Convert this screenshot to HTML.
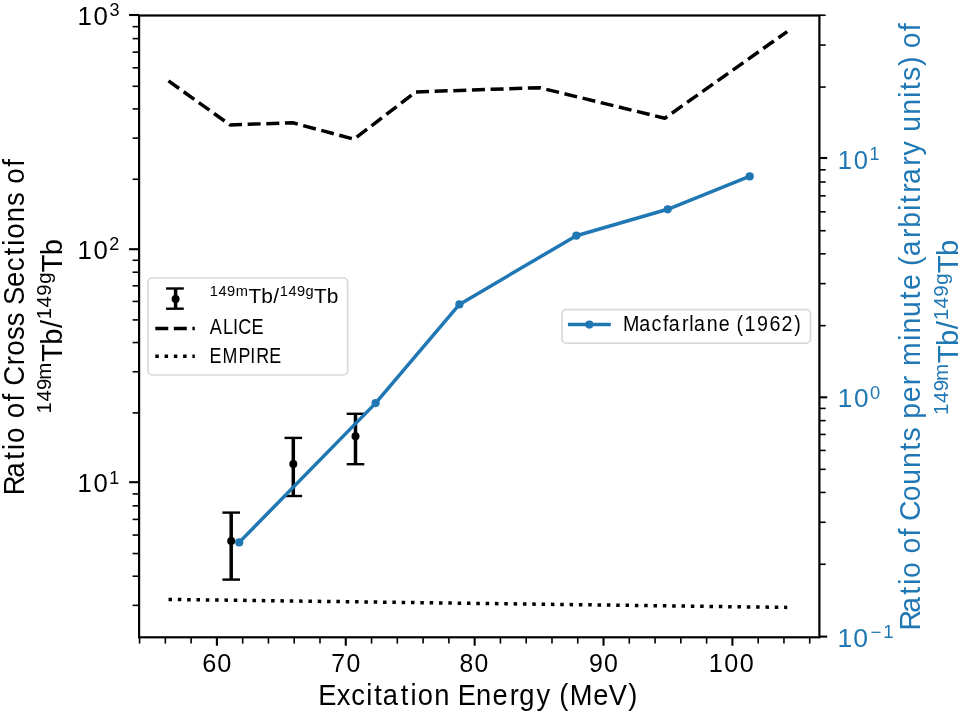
<!DOCTYPE html>
<html><head><meta charset="utf-8"><title>Ratio of Cross Sections</title>
<style>html,body{margin:0;padding:0;background:#fff;overflow:hidden}svg{display:block;will-change:transform}text{font-family:"Liberation Sans",sans-serif;font-kerning:none}</style>
</head><body>
<svg width="964" height="715" viewBox="0 0 964 715" font-family="Liberation Sans, sans-serif">
<rect x="0" y="0" width="964" height="715" fill="#fff"/>
<polyline points="168.50,80.90 230.00,124.90 292.80,122.80 354.00,139.20 415.80,91.90 539.60,87.70 664.80,118.20 787.20,31.60" fill="none" stroke="#000" stroke-width="3.50" stroke-dasharray="13.024 5.632" stroke-linejoin="round" stroke-linecap="butt"/>
<polyline points="168.50,599.40 787.20,607.40" fill="none" stroke="#000" stroke-width="3.50" stroke-dasharray="3.520 5.808" stroke-linejoin="round" stroke-linecap="butt"/>
<line x1="231.20" y1="579.60" x2="231.20" y2="512.60" stroke="#000" stroke-width="3.50"/>
<line x1="222.40" y1="579.60" x2="240.00" y2="579.60" stroke="#000" stroke-width="2.4"/>
<line x1="222.40" y1="512.60" x2="240.00" y2="512.60" stroke="#000" stroke-width="2.4"/>
<circle cx="231.20" cy="541.00" r="4.0" fill="#000"/>
<line x1="293.30" y1="496.00" x2="293.30" y2="437.90" stroke="#000" stroke-width="3.50"/>
<line x1="284.50" y1="496.00" x2="302.10" y2="496.00" stroke="#000" stroke-width="2.4"/>
<line x1="284.50" y1="437.90" x2="302.10" y2="437.90" stroke="#000" stroke-width="2.4"/>
<circle cx="293.30" cy="463.90" r="4.0" fill="#000"/>
<line x1="355.50" y1="464.20" x2="355.50" y2="413.80" stroke="#000" stroke-width="3.50"/>
<line x1="346.70" y1="464.20" x2="364.30" y2="464.20" stroke="#000" stroke-width="2.4"/>
<line x1="346.70" y1="413.80" x2="364.30" y2="413.80" stroke="#000" stroke-width="2.4"/>
<circle cx="355.50" cy="436.20" r="4.0" fill="#000"/>
<line x1="139.58" y1="637.30" x2="139.58" y2="643.60" stroke="#000" stroke-width="1.60"/>
<line x1="165.35" y1="637.30" x2="165.35" y2="643.60" stroke="#000" stroke-width="1.60"/>
<line x1="191.12" y1="637.30" x2="191.12" y2="643.60" stroke="#000" stroke-width="1.60"/>
<line x1="216.90" y1="637.30" x2="216.90" y2="645.70" stroke="#000" stroke-width="2.10"/>
<line x1="242.68" y1="637.30" x2="242.68" y2="643.60" stroke="#000" stroke-width="1.60"/>
<line x1="268.45" y1="637.30" x2="268.45" y2="643.60" stroke="#000" stroke-width="1.60"/>
<line x1="294.23" y1="637.30" x2="294.23" y2="643.60" stroke="#000" stroke-width="1.60"/>
<line x1="320.00" y1="637.30" x2="320.00" y2="643.60" stroke="#000" stroke-width="1.60"/>
<line x1="345.77" y1="637.30" x2="345.77" y2="645.70" stroke="#000" stroke-width="2.10"/>
<line x1="371.55" y1="637.30" x2="371.55" y2="643.60" stroke="#000" stroke-width="1.60"/>
<line x1="397.32" y1="637.30" x2="397.32" y2="643.60" stroke="#000" stroke-width="1.60"/>
<line x1="423.10" y1="637.30" x2="423.10" y2="643.60" stroke="#000" stroke-width="1.60"/>
<line x1="448.88" y1="637.30" x2="448.88" y2="643.60" stroke="#000" stroke-width="1.60"/>
<line x1="474.65" y1="637.30" x2="474.65" y2="645.70" stroke="#000" stroke-width="2.10"/>
<line x1="500.42" y1="637.30" x2="500.42" y2="643.60" stroke="#000" stroke-width="1.60"/>
<line x1="526.20" y1="637.30" x2="526.20" y2="643.60" stroke="#000" stroke-width="1.60"/>
<line x1="551.98" y1="637.30" x2="551.98" y2="643.60" stroke="#000" stroke-width="1.60"/>
<line x1="577.75" y1="637.30" x2="577.75" y2="643.60" stroke="#000" stroke-width="1.60"/>
<line x1="603.52" y1="637.30" x2="603.52" y2="645.70" stroke="#000" stroke-width="2.10"/>
<line x1="629.30" y1="637.30" x2="629.30" y2="643.60" stroke="#000" stroke-width="1.60"/>
<line x1="655.07" y1="637.30" x2="655.07" y2="643.60" stroke="#000" stroke-width="1.60"/>
<line x1="680.85" y1="637.30" x2="680.85" y2="643.60" stroke="#000" stroke-width="1.60"/>
<line x1="706.62" y1="637.30" x2="706.62" y2="643.60" stroke="#000" stroke-width="1.60"/>
<line x1="732.40" y1="637.30" x2="732.40" y2="645.70" stroke="#000" stroke-width="2.10"/>
<line x1="758.17" y1="637.30" x2="758.17" y2="643.60" stroke="#000" stroke-width="1.60"/>
<line x1="783.95" y1="637.30" x2="783.95" y2="643.60" stroke="#000" stroke-width="1.60"/>
<line x1="809.72" y1="637.30" x2="809.72" y2="643.60" stroke="#000" stroke-width="1.60"/>
<line x1="132.60" y1="605.38" x2="139.10" y2="605.38" stroke="#000" stroke-width="1.60"/>
<line x1="132.60" y1="576.19" x2="139.10" y2="576.19" stroke="#000" stroke-width="1.60"/>
<line x1="132.60" y1="553.55" x2="139.10" y2="553.55" stroke="#000" stroke-width="1.60"/>
<line x1="132.60" y1="535.05" x2="139.10" y2="535.05" stroke="#000" stroke-width="1.60"/>
<line x1="132.60" y1="519.41" x2="139.10" y2="519.41" stroke="#000" stroke-width="1.60"/>
<line x1="132.60" y1="505.86" x2="139.10" y2="505.86" stroke="#000" stroke-width="1.60"/>
<line x1="132.60" y1="493.91" x2="139.10" y2="493.91" stroke="#000" stroke-width="1.60"/>
<line x1="129.10" y1="482.20" x2="139.10" y2="482.20" stroke="#000" stroke-width="2.10"/>
<line x1="132.60" y1="412.89" x2="139.10" y2="412.89" stroke="#000" stroke-width="1.60"/>
<line x1="132.60" y1="371.75" x2="139.10" y2="371.75" stroke="#000" stroke-width="1.60"/>
<line x1="132.60" y1="342.56" x2="139.10" y2="342.56" stroke="#000" stroke-width="1.60"/>
<line x1="132.60" y1="319.92" x2="139.10" y2="319.92" stroke="#000" stroke-width="1.60"/>
<line x1="132.60" y1="301.42" x2="139.10" y2="301.42" stroke="#000" stroke-width="1.60"/>
<line x1="132.60" y1="285.78" x2="139.10" y2="285.78" stroke="#000" stroke-width="1.60"/>
<line x1="132.60" y1="272.23" x2="139.10" y2="272.23" stroke="#000" stroke-width="1.60"/>
<line x1="132.60" y1="260.28" x2="139.10" y2="260.28" stroke="#000" stroke-width="1.60"/>
<line x1="129.10" y1="249.20" x2="139.10" y2="249.20" stroke="#000" stroke-width="2.10"/>
<line x1="132.60" y1="179.26" x2="139.10" y2="179.26" stroke="#000" stroke-width="1.60"/>
<line x1="132.60" y1="138.12" x2="139.10" y2="138.12" stroke="#000" stroke-width="1.60"/>
<line x1="132.60" y1="108.93" x2="139.10" y2="108.93" stroke="#000" stroke-width="1.60"/>
<line x1="132.60" y1="86.29" x2="139.10" y2="86.29" stroke="#000" stroke-width="1.60"/>
<line x1="132.60" y1="67.79" x2="139.10" y2="67.79" stroke="#000" stroke-width="1.60"/>
<line x1="132.60" y1="52.15" x2="139.10" y2="52.15" stroke="#000" stroke-width="1.60"/>
<line x1="132.60" y1="38.60" x2="139.10" y2="38.60" stroke="#000" stroke-width="1.60"/>
<line x1="132.60" y1="26.65" x2="139.10" y2="26.65" stroke="#000" stroke-width="1.60"/>
<line x1="129.10" y1="15.00" x2="139.10" y2="15.00" stroke="#000" stroke-width="2.10"/>
<rect x="139.10" y="15.50" width="680.30" height="621.80" fill="none" stroke="#000" stroke-width="2.20" stroke-linejoin="miter"/>
<line x1="819.40" y1="636.60" x2="827.20" y2="636.60" stroke="#000" stroke-width="2.10"/>
<line x1="819.40" y1="564.26" x2="825.70" y2="564.26" stroke="#000" stroke-width="1.60"/>
<line x1="819.40" y1="522.25" x2="825.70" y2="522.25" stroke="#000" stroke-width="1.60"/>
<line x1="819.40" y1="492.44" x2="825.70" y2="492.44" stroke="#000" stroke-width="1.60"/>
<line x1="819.40" y1="469.32" x2="825.70" y2="469.32" stroke="#000" stroke-width="1.60"/>
<line x1="819.40" y1="450.42" x2="825.70" y2="450.42" stroke="#000" stroke-width="1.60"/>
<line x1="819.40" y1="434.45" x2="825.70" y2="434.45" stroke="#000" stroke-width="1.60"/>
<line x1="819.40" y1="420.61" x2="825.70" y2="420.61" stroke="#000" stroke-width="1.60"/>
<line x1="819.40" y1="408.41" x2="825.70" y2="408.41" stroke="#000" stroke-width="1.60"/>
<line x1="819.40" y1="397.30" x2="827.20" y2="397.30" stroke="#000" stroke-width="2.10"/>
<line x1="819.40" y1="325.66" x2="825.70" y2="325.66" stroke="#000" stroke-width="1.60"/>
<line x1="819.40" y1="283.65" x2="825.70" y2="283.65" stroke="#000" stroke-width="1.60"/>
<line x1="819.40" y1="253.84" x2="825.70" y2="253.84" stroke="#000" stroke-width="1.60"/>
<line x1="819.40" y1="230.72" x2="825.70" y2="230.72" stroke="#000" stroke-width="1.60"/>
<line x1="819.40" y1="211.82" x2="825.70" y2="211.82" stroke="#000" stroke-width="1.60"/>
<line x1="819.40" y1="195.85" x2="825.70" y2="195.85" stroke="#000" stroke-width="1.60"/>
<line x1="819.40" y1="182.01" x2="825.70" y2="182.01" stroke="#000" stroke-width="1.60"/>
<line x1="819.40" y1="169.81" x2="825.70" y2="169.81" stroke="#000" stroke-width="1.60"/>
<line x1="819.40" y1="158.00" x2="827.20" y2="158.00" stroke="#000" stroke-width="2.10"/>
<line x1="819.40" y1="87.06" x2="825.70" y2="87.06" stroke="#000" stroke-width="1.60"/>
<line x1="819.40" y1="45.05" x2="825.70" y2="45.05" stroke="#000" stroke-width="1.60"/>
<line x1="819.40" y1="15.24" x2="825.70" y2="15.24" stroke="#000" stroke-width="1.60"/>
<rect x="148.00" y="278.00" width="199.70" height="97.00" rx="4.2" ry="4.2" fill="#fff" fill-opacity="0.8" stroke="#cccccc" stroke-opacity="0.75" stroke-width="1.7"/>
<line x1="175.6" y1="288.5" x2="175.6" y2="308.7" stroke="#000" stroke-width="3.50"/>
<line x1="166.1" y1="288.50" x2="183.8" y2="288.50" stroke="#000" stroke-width="2.4"/>
<line x1="166.1" y1="308.70" x2="183.8" y2="308.70" stroke="#000" stroke-width="2.4"/>
<circle cx="175.6" cy="299.1" r="4.0" fill="#000"/>
<line x1="155.3" y1="328.4" x2="194.8" y2="328.4" stroke="#000" stroke-width="3.50" stroke-dasharray="12.95 5.60"/>
<line x1="155.3" y1="356.3" x2="194.8" y2="356.3" stroke="#000" stroke-width="3.50" stroke-dasharray="3.50 5.77"/>
<polyline points="239.20,542.40 375.60,403.10 459.40,304.40 576.30,235.70 667.70,209.30 749.70,176.40" fill="none" stroke="#1f77b4" stroke-width="3.50" stroke-linejoin="round" stroke-linecap="square"/>
<circle cx="239.20" cy="542.40" r="4.1" fill="#1f77b4"/>
<circle cx="375.60" cy="403.10" r="4.1" fill="#1f77b4"/>
<circle cx="459.40" cy="304.40" r="4.1" fill="#1f77b4"/>
<circle cx="576.30" cy="235.70" r="4.1" fill="#1f77b4"/>
<circle cx="667.70" cy="209.30" r="4.1" fill="#1f77b4"/>
<circle cx="749.70" cy="176.40" r="4.1" fill="#1f77b4"/>
<rect x="562.00" y="309.70" width="248.50" height="33.50" rx="4.2" ry="4.2" fill="#fff" fill-opacity="0.8" stroke="#cccccc" stroke-opacity="0.75" stroke-width="1.7"/>
<line x1="567.9" y1="324.6" x2="610.8" y2="324.6" stroke="#1f77b4" stroke-width="3.50"/>
<circle cx="589.4" cy="324.6" r="4.1" fill="#1f77b4"/>
<text transform="scale(1.0000,1)" fill="#000"><tspan x="202.22 217.23" y="672.10" font-size="25.29">60</tspan></text>
<text transform="scale(0.9832,1)" fill="#000"><tspan x="337.02 352.50" y="672.10" font-size="25.29">70</tspan></text>
<text transform="scale(0.9793,1)" fill="#000"><tspan x="469.26 484.44" y="672.10" font-size="25.29">80</tspan></text>
<text transform="scale(0.9856,1)" fill="#000"><tspan x="597.63 612.73" y="672.10" font-size="25.29">90</tspan></text>
<text transform="scale(0.9940,1)" fill="#000"><tspan x="713.10 728.70 744.18" y="672.10" font-size="25.29">100</tspan></text>
<text transform="scale(1.0189,1)" fill="#000"><tspan x="76.09 91.89" y="24.62" font-size="25.29">10</tspan><tspan x="107.58" y="16.18" font-size="17.70">3</tspan></text>
<text transform="scale(1.0188,1)" fill="#000"><tspan x="76.10 91.88" y="258.62" font-size="25.29">10</tspan><tspan x="107.31" y="250.18" font-size="17.70">2</tspan></text>
<text transform="scale(1.0131,1)" fill="#000"><tspan x="76.55 92.36" y="492.14" font-size="25.29">10</tspan><tspan x="107.96" y="483.70" font-size="17.70">1</tspan></text>
<text transform="scale(1.0105,1)" fill="#1f77b4"><tspan x="829.18 844.99" y="168.74" font-size="25.29">10</tspan><tspan x="860.59" y="160.20" font-size="17.70">1</tspan></text>
<text transform="scale(1.0369,1)" fill="#1f77b4"><tspan x="807.96 823.59" y="407.42" font-size="25.29">10</tspan><tspan x="839.12" y="398.88" font-size="17.70">0</tspan></text>
<text transform="scale(1.0509,1)" fill="#1f77b4"><tspan x="796.89 811.88" y="646.64" font-size="25.29">10</tspan><tspan x="828.24 840.44" y="638.10" font-size="17.70">−1</tspan></text>
<text transform="scale(0.9201,1)" fill="#000"><tspan x="346.03 366.10 381.72 398.07 406.78 416.08 435.64 446.17 453.98 471.93 493.71 497.43 517.40 535.33 553.89 564.35 582.97 603.38 607.93 619.26 644.64 661.59 682.72" y="705.40" font-size="29.65">Excitation Energy (MeV)</tspan></text>
<g transform="rotate(-90)"><text transform="scale(0.9388,1)" fill="#000"><tspan x="-527.53 -508.85 -489.67 -479.35 -471.76 -450.65 -445.63 -427.65 -414.64 -411.01 -389.00 -379.07 -362.14 -347.50 -328.69 -324.83 -305.73 -288.93 -272.17 -261.86 -254.27 -236.71 -219.52 -200.71 -195.69 -177.71" y="24.40" font-size="29.36">Ratio of Cross Sections of</tspan></text></g>
<g transform="rotate(-90)"><text transform="scale(1.0028,1)" fill="#000"><tspan x="-412.31 -400.49 -388.85 -378.72" y="51.29" font-size="20.35">149m</tspan><tspan x="-361.10 -343.80 -327.14" y="61.79" font-size="29.07">Tb/</tspan><tspan x="-318.35 -306.53 -294.89 -282.97" y="51.29" font-size="20.35">149g</tspan><tspan x="-271.77 -254.47" y="61.79" font-size="29.07">Tb</tspan></text></g>
<g transform="rotate(-90)"><text transform="scale(0.9588,1)" fill="#1f77b4"><tspan x="-657.55 -639.20 -620.27 -610.13 -602.85 -582.06 -577.27 -559.54 -546.78 -543.43 -522.78 -505.71 -488.15 -470.04 -460.50 -441.98 -436.71 -419.62 -401.73 -387.52 -381.78 -355.55 -347.92 -330.59 -312.37 -302.50 -281.71 -277.42 -267.23 -248.27 -237.53 -220.18 -211.87 -201.05 -191.84 -172.87 -162.07 -142.37 -137.34 -119.78 -102.33 -94.03 -84.49 -68.92 -55.23 -50.44 -32.71" y="920.00" font-size="29.65">Ratio of Counts per minute (arbitrary units) of</tspan></text></g>
<g transform="rotate(-90)"><text transform="scale(1.0024,1)" fill="#1f77b4"><tspan x="-413.95 -402.08 -390.38 -380.19" y="947.93" font-size="20.45">149m</tspan><tspan x="-362.49 -345.10 -328.35" y="958.49" font-size="29.22">Tb/</tspan><tspan x="-319.52 -307.65 -295.95 -283.96" y="947.93" font-size="20.45">149g</tspan><tspan x="-272.71 -255.33" y="958.49" font-size="29.22">Tb</tspan></text></g>
<text transform="scale(1.0426,1)" fill="#000"><tspan x="201.19 209.49 217.67 226.22" y="295.81" font-size="14.04">149m</tspan><tspan x="238.35 250.51 262.16" y="303.06" font-size="20.06">Tb/</tspan><tspan x="268.37 276.67 284.85 293.04" y="295.81" font-size="14.04">149g</tspan><tspan x="301.15 313.30" y="303.06" font-size="20.06">Tb</tspan></text>
<text transform="scale(0.8304,1)" fill="#000"><tspan x="252.71 268.54 280.72 287.04 302.82" y="334.10" font-size="21.80">ALICE</tspan></text>
<text transform="scale(0.8244,1)" fill="#000"><tspan x="254.05 269.81 289.23 303.55 310.77 326.48" y="363.10" font-size="21.66">EMPIRE</tspan></text>
<text transform="scale(0.9070,1)" fill="#000"><tspan x="686.83 704.82 718.40 730.98 737.21 751.80 759.94 765.05 779.22 792.57 808.54 811.95 820.95 834.59 848.27 861.59 875.82" y="331.30" font-size="21.66">Macfarlane (1962)</tspan></text>
</svg>
</body></html>
